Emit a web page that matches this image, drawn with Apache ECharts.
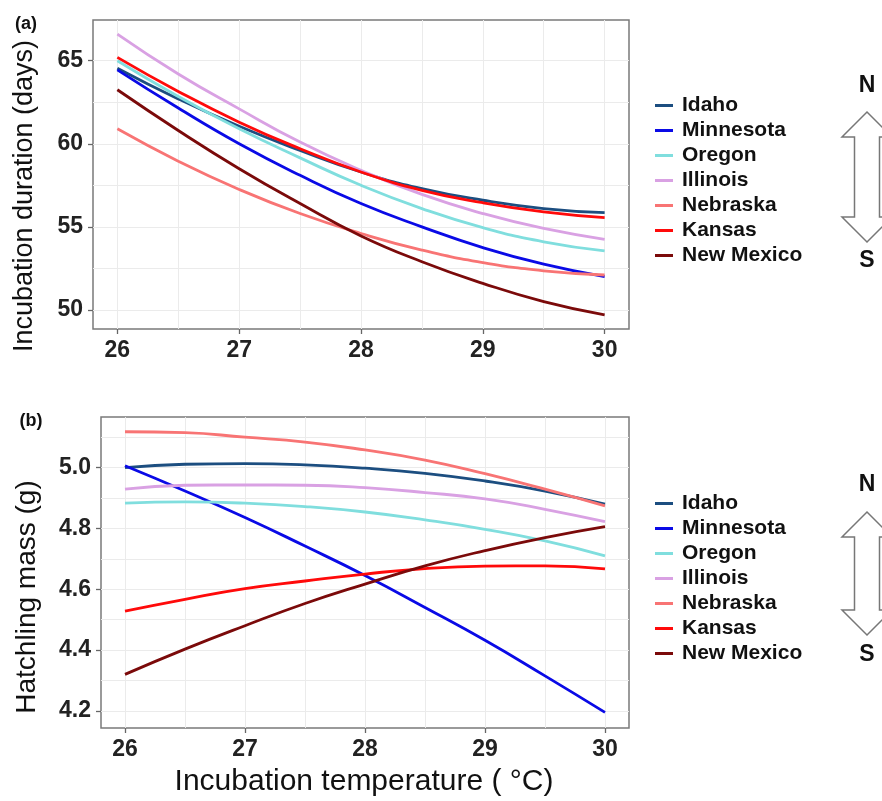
<!DOCTYPE html>
<html>
<head>
<meta charset="utf-8">
<title>Incubation temperature</title>
<script src="https://cdn.jsdelivr.net/npm/echarts@6/dist/echarts.min.js"></script>
<style>
  html, body { margin: 0; padding: 0; background: #fff; }
  #main { width: 882px; height: 801px; }
</style>
</head>
<body>
<div id="main"></div>
<script>
// x values (incubation temperature, deg C)
var tempC = [26, 26.5, 27, 27.5, 28, 28.5, 29, 29.5, 30];
var sites = ['Idaho', 'Minnesota', 'Oregon', 'Illinois', 'Nebraska', 'Kansas', 'New Mexico'];
var siteColors = ['#1c4e80', '#0a0ae6', '#80dede', '#d9a1e3', '#f87474', '#ff0a0a', '#7b0a0a'];

// (a) incubation duration (days)
var idahoDur     = [64.55, 62.7, 61.05, 59.6, 58.3, 57.3, 56.6, 56.1, 55.85];
var minnesotaDur = [64.45, 62.15, 60.0, 58.1, 56.4, 55.0, 53.75, 52.75, 52.0];
var oregonDur    = [65.0, 62.85, 60.9, 59.15, 57.5, 56.1, 54.95, 54.1, 53.55];
var illinoisDur  = [66.6, 64.2, 62.1, 60.1, 58.4, 56.95, 55.8, 54.9, 54.25];
var nebraskaDur  = [60.9, 58.95, 57.25, 55.8, 54.6, 53.6, 52.85, 52.35, 52.1];
var kansasDur    = [65.2, 63.15, 61.3, 59.7, 58.3, 57.2, 56.45, 55.9, 55.55];
var newMexicoDur = [63.25, 60.8, 58.5, 56.4, 54.45, 52.9, 51.6, 50.5, 49.7];

// (b) hatchling mass (g)
var idahoMass     = [5.0, 5.011, 5.013, 5.009, 4.998, 4.981, 4.956, 4.923, 4.88];
var minnesotaMass = [5.006, 4.923, 4.836, 4.742, 4.645, 4.54, 4.432, 4.315, 4.195];
var oregonMass    = [4.883, 4.887, 4.883, 4.872, 4.854, 4.828, 4.797, 4.759, 4.71];
var illinoisMass  = [4.929, 4.942, 4.943, 4.942, 4.934, 4.918, 4.897, 4.863, 4.822];
var nebraskaMass  = [5.118, 5.115, 5.10, 5.084, 5.058, 5.025, 4.98, 4.929, 4.874];
var kansasMass    = [4.528, 4.567, 4.602, 4.627, 4.650, 4.668, 4.676, 4.677, 4.667];
var newMexicoMass = [4.32, 4.403, 4.48, 4.553, 4.617, 4.677, 4.727, 4.77, 4.806];

// ticks and grid lines
var xTicks = [26, 27, 28, 29, 30];
var xGridLines = [26, 26.5, 27, 27.5, 28, 28.5, 29, 29.5, 30];
var durTicks = [50, 55, 60, 65];
var durGridLines = [50, 52.5, 55, 57.5, 60, 62.5, 65];
var massTicks = [4.2, 4.4, 4.6, 4.8, 5.0];
var massGridLines = [4.2, 4.3, 4.4, 4.5, 4.6, 4.7, 4.8, 4.9, 5.0, 5.1];

var durData = [idahoDur, minnesotaDur, oregonDur, illinoisDur, nebraskaDur, kansasDur, newMexicoDur];
var massData = [idahoMass, minnesotaMass, oregonMass, illinoisMass, nebraskaMass, kansasMass, newMexicoMass];

var FONT = "'Liberation Sans', Arial, sans-serif";
var tickColor = '#666';
var gridColor = '#ebebeb';

function pairs(ys) {
  var out = [];
  for (var i = 0; i < tempC.length; i++) out.push([tempC[i], ys[i]]);
  return out;
}

// axis carrying labels + grid lines
function gridAxis(gi, pos, min, max, labels, lines, fmt) {
  return {
    type: 'value', gridIndex: gi, position: pos, min: min, max: max,
    axisLine: { show: false },
    axisTick: { show: false, customValues: lines },
    axisLabel: {
      customValues: labels, fontFamily: FONT, fontSize: 23, fontWeight: 'bold',
      color: '#222', margin: 10, formatter: fmt
    },
    splitLine: { show: true, customValues: lines, lineStyle: { color: gridColor, width: 1 } }
  };
}
// axis carrying only the major tick marks
function tickAxis(gi, pos, min, max, ticks) {
  return {
    type: 'value', gridIndex: gi, position: pos, offset: 0, min: min, max: max,
    axisLine: { show: false },
    axisTick: { show: true, customValues: ticks, length: 5, lineStyle: { color: tickColor, width: 1.3 } },
    axisLabel: { show: false },
    splitLine: { show: false }
  };
}

var xMin = 25.8, xMax = 30.2;
var series = [];
sites.forEach(function (s, i) {
  series.push({
    name: s, type: 'line', xAxisIndex: 0, yAxisIndex: 0, data: pairs(durData[i]),
    smooth: true, symbol: 'none', lineStyle: { width: 2.8, color: siteColors[i] }, itemStyle: { color: siteColors[i] }
  });
});
sites.forEach(function (s, i) {
  series.push({
    name: s, type: 'line', xAxisIndex: 2, yAxisIndex: 2, data: pairs(massData[i]),
    smooth: true, symbol: 'none', lineStyle: { width: 2.8, color: siteColors[i] }, itemStyle: { color: siteColors[i] }
  });
});

function legendAt(top) {
  return {
    orient: 'vertical', left: 655, top: top, padding: 0,
    icon: 'rect', itemWidth: 18, itemHeight: 3, itemGap: 4,
    textStyle: { fontFamily: FONT, fontSize: 21, fontWeight: 'bold', color: '#111', lineHeight: 20, padding: [0, 0, 0, 4] },
    data: sites
  };
}

function arrow(yTop, yBot) {
  var cx = 867, head = 25, half = 12.5, hw = 25;
  return {
    type: 'polygon',
    shape: { points: [
      [cx, yTop], [cx + hw, yTop + head], [cx + half, yTop + head], [cx + half, yBot - head],
      [cx + hw, yBot - head], [cx, yBot], [cx - hw, yBot - head], [cx - half, yBot - head],
      [cx - half, yTop + head], [cx - hw, yTop + head]
    ] },
    style: { fill: '#fff', stroke: '#777', lineWidth: 1.5 }
  };
}
function txt(x, y, t, size, weight, rot) {
  return {
    type: 'text', x: x, y: y, rotation: rot || 0,
    style: { text: t, fontFamily: FONT, fontSize: size, fontWeight: weight, fill: '#111',
             textAlign: 'center', textVerticalAlign: 'middle' }
  };
}

var chart = echarts.init(document.getElementById('main'), null, { renderer: 'canvas' });
chart.setOption({
  animation: false,
  backgroundColor: '#fff',
  grid: [
    { left: 93, top: 20, width: 536, height: 309, show: true, borderColor: '#7a7a7a', borderWidth: 1.5 },
    { left: 101, top: 417, width: 528, height: 311, show: true, borderColor: '#7a7a7a', borderWidth: 1.5 }
  ],
  xAxis: [
    gridAxis(0, 'bottom', xMin, xMax, xTicks, xGridLines),
    tickAxis(0, 'bottom', xMin, xMax, xTicks),
    gridAxis(1, 'bottom', xMin, xMax, xTicks, xGridLines),
    tickAxis(1, 'bottom', xMin, xMax, xTicks)
  ],
  yAxis: [
    gridAxis(0, 'left', 48.85, 67.45, durTicks, durGridLines),
    tickAxis(0, 'left', 48.85, 67.45, durTicks),
    gridAxis(1, 'left', 4.1435, 5.1665, massTicks, massGridLines, function (v) { return v.toFixed(1); }),
    tickAxis(1, 'left', 4.1435, 5.1665, massTicks)
  ],
  legend: [legendAt(95), legendAt(493)],
  series: series,
  graphic: [
    txt(26, 24, '(a)', 18, 'bold'),
    txt(31, 421, '(b)', 18, 'bold'),
    txt(25, 196, 'Incubation duration (days)', 27, 'normal', Math.PI / 2),
    txt(27, 597, 'Hatchling mass (g)', 28, 'normal', Math.PI / 2),
    txt(364, 782, 'Incubation temperature ( \u00B0C)', 30, 'normal'),
    arrow(112, 242),
    arrow(512, 635),
    txt(867, 86, 'N', 23, 'bold'),
    txt(867, 261, 'S', 23, 'bold'),
    txt(867, 485, 'N', 23, 'bold'),
    txt(867, 655, 'S', 23, 'bold')
  ]
});
</script>
</body>
</html>
